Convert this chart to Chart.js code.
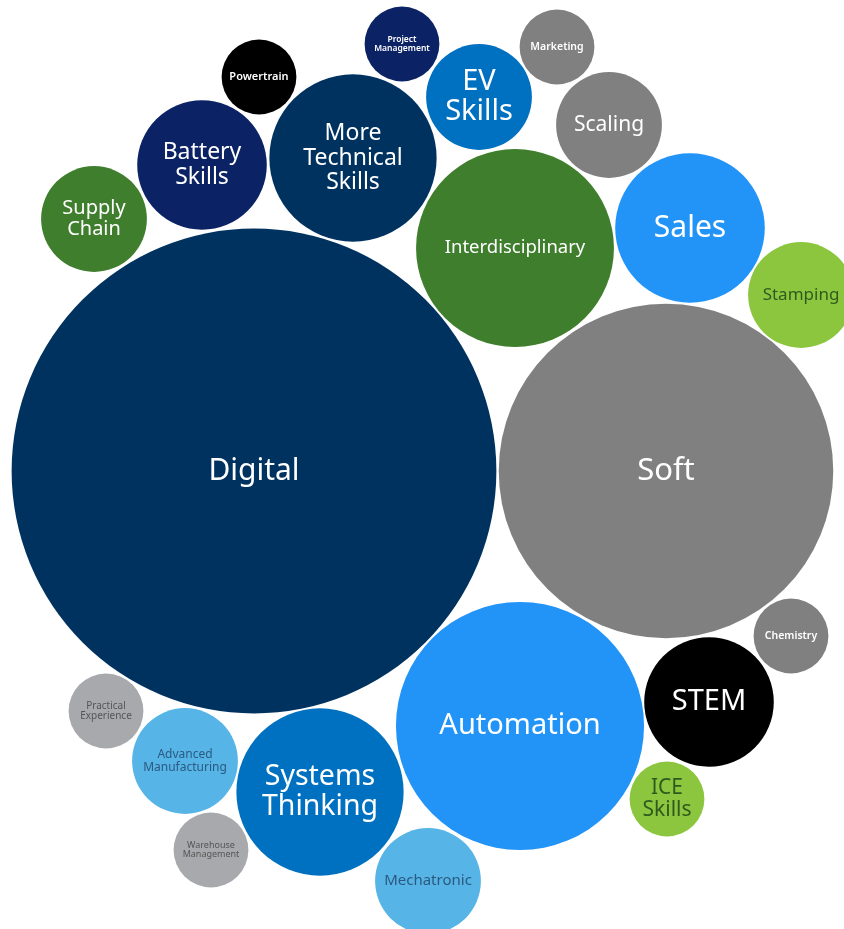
<!DOCTYPE html>
<html>
<head>
<meta charset="utf-8">
<title>Skills bubble chart</title>
<script src="https://cdn.jsdelivr.net/npm/chart.js@4"></script>
<style>
	html, body { margin: 0; padding: 0; background: #fff; }
	#wrap { width: 844px; height: 929px; }
</style>
</head>
<body>
<div id="wrap"><canvas id="bubbles"></canvas></div>
<script>
// Skill categories, lines of each label
const skills = [
	['Digital'], ['Soft'], ['Automation'], ['Interdisciplinary'],
	['More', 'Technical', 'Skills'], ['Systems', 'Thinking'], ['Sales'],
	['Battery', 'Skills'], ['STEM'], ['Supply', 'Chain'], ['EV', 'Skills'],
	['Scaling'], ['Stamping'], ['Mechatronic'], ['Advanced', 'Manufacturing'],
	['Powertrain'], ['Project', 'Management'], ['Marketing'], ['Chemistry'],
	['ICE', 'Skills'], ['Practical', 'Experience'], ['Warehouse', 'Management'],
];

// Mentions per skill (bubble area)
const mentions = [42, 20, 11, 7, 5, 5, 4, 3, 3, 2, 2, 2, 2, 2, 2, 1, 1, 1, 1, 1, 1, 1];

// Packed layout position of each bubble
const posX = [254, 666, 520, 515, 353, 320, 690, 202, 709, 94, 479, 609, 801, 428, 185, 259, 402, 557, 791, 667, 106, 211];
const posY = [471, 471, 726, 248, 158, 792, 228, 165, 702, 219, 97, 125, 295, 881, 761, 77, 44, 47, 636, 799, 711, 850];

// Styling per bubble
const fills = [
	'#00325f', '#808080', '#2394f7', '#3f7e2c', '#00325f', '#0070c0', '#2394f7',
	'#0b2265', '#000000', '#3f7e2c', '#0070c0', '#808080', '#8cc63f', '#56b4e6',
	'#56b4e6', '#000000', '#0b2265', '#808080', '#808080', '#8cc63f', '#a7a9ac', '#a7a9ac',
];
const textColors = [
	'#fff', '#fff', '#fff', '#fff', '#fff', '#fff', '#fff', '#fff', '#fff', '#fff', '#fff',
	'#fff', '#2f5a1e', '#2b5a80', '#2b5a80', '#fff', '#fff', '#fff', '#fff', '#2f5a1e', '#555', '#555',
];
const fontSizes = [30, 31, 29, 18.5, 23, 28.5, 30, 23, 29, 20, 29, 21, 17, 15, 12, 11, 8.5, 10.5, 10.5, 21, 10, 9];
const fontWeights = [400, 400, 400, 400, 400, 400, 400, 400, 400, 400, 400, 400, 400, 400, 400, 600, 600, 600, 600, 400, 400, 400];

const K = 37.4; // px radius for one mention

const labelPlugin = {
	id: 'bubbleLabels',
	afterDatasetsDraw(chart) {
		const {ctx} = chart;
		const meta = chart.getDatasetMeta(0);
		ctx.save();
		ctx.textAlign = 'center';
		ctx.textBaseline = 'middle';
		meta.data.forEach((el, i) => {
			const lines = skills[i];
			const size = fontSizes[i];
			const lh = size * 1.05;
			ctx.font = `${fontWeights[i]} ${size}px "Noto Sans", sans-serif`;
			ctx.fillStyle = textColors[i];
			const top = el.y - (lh * (lines.length - 1)) / 2;
			lines.forEach((line, j) => ctx.fillText(line, el.x, top + j * lh));
		});
		ctx.restore();
	},
};

new Chart(document.querySelector('#bubbles'), {
	type: 'bubble',
	data: {
		datasets: [{
			data: mentions.map((m, i) => ({x: posX[i], y: posY[i], r: K * Math.sqrt(m)})),
			backgroundColor: fills,
			borderWidth: 0,
			hoverBorderWidth: 0,
			clip: false,
		}],
	},
	options: {
		responsive: true,
		maintainAspectRatio: false,
		animation: false,
		events: [],
		// bubbles sit in pixel units, so no auto padding for the radii
		layout: {padding: 0, autoPadding: false},
		plugins: {legend: {display: false}, tooltip: {enabled: false}},
		scales: {
			x: {type: 'linear', min: 0, max: 844, display: false},
			y: {type: 'linear', min: 0, max: 929, reverse: true, display: false},
		},
	},
	plugins: [labelPlugin],
});
</script>
</body>
</html>
